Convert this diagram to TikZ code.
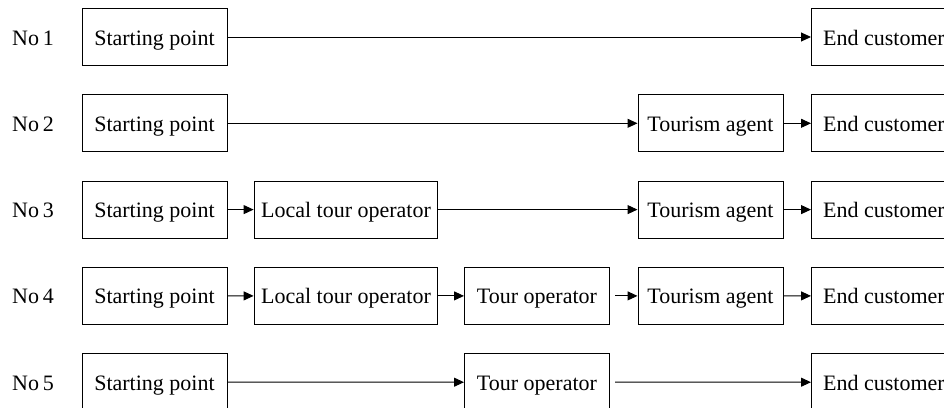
\documentclass[tikz,border=0pt]{standalone}
\usepackage{fontspec}
\setmainfont{Liberation Serif}
\usepackage{tikz}
\usetikzlibrary{positioning,arrows.meta}

\tikzset{
    chbox/.style={draw, line width=1pt, minimum width=145pt, minimum height=57pt, inner xsep=7pt, text height=17pt, text depth=1pt, font=\fontsize{22}{26}\selectfont},
    chlabel/.style={text height=17pt, text depth=1pt, font=\fontsize{22}{26}\selectfont},
    charrow/.style={line width=1pt, -{Triangle[length=10pt,width=9pt]}}
}

\begin{document}
\begin{tikzpicture}[x=1pt, y=-1pt]
    \clip (0,0) rectangle (944,407);
    \fill[white] (0,0) rectangle (944,407);

    % Row labels and starting points
    \foreach \i in {1,...,5} {
        \node [chlabel] (no\i) at (33, {37+86.3*(\i-1)}) {No\,\i};
        \node [chbox] (s\i) at (154.5, {37+86.3*(\i-1)}) {Starting point};
        \node [chbox, anchor=west] (e\i) at (811, {37+86.3*(\i-1)}) {End customer};
    }

    % No 1
    \draw [charrow] (s1) -- (e1);

    % No 2
    \node [chbox] (t2) at (710.5, 123.3) {Tourism agent};
    \draw [charrow] (s2) -- (t2);
    \draw [charrow] (t2) -- (e2);

    % No 3
    \node [chbox] (l3) at (346, 209.6) {Local tour operator};
    \node [chbox] (t3) at (710.5, 209.6) {Tourism agent};
    \draw [charrow] (s3) -- (l3);
    \draw [charrow] (l3) -- (t3);
    \draw [charrow] (t3) -- (e3);

    % No 4
    \node [chbox] (l4) at (346, 295.9) {Local tour operator};
    \node [chbox] (o4) at (537, 295.9) {Tour operator};
    \node [chbox] (t4) at (710.5, 295.9) {Tourism agent};
    \draw [charrow] (s4) -- (l4);
    \draw [charrow] (l4) -- (o4);
    \draw [charrow, shorten <=5pt] (o4) -- (t4);
    \draw [charrow] (t4) -- (e4);

    % No 5
    \node [chbox] (o5) at (537, 382.2) {Tour operator};
    \draw [charrow] (s5) -- (o5);
    \draw [charrow, shorten <=5pt] (o5) -- (e5);
\end{tikzpicture}
\end{document}
